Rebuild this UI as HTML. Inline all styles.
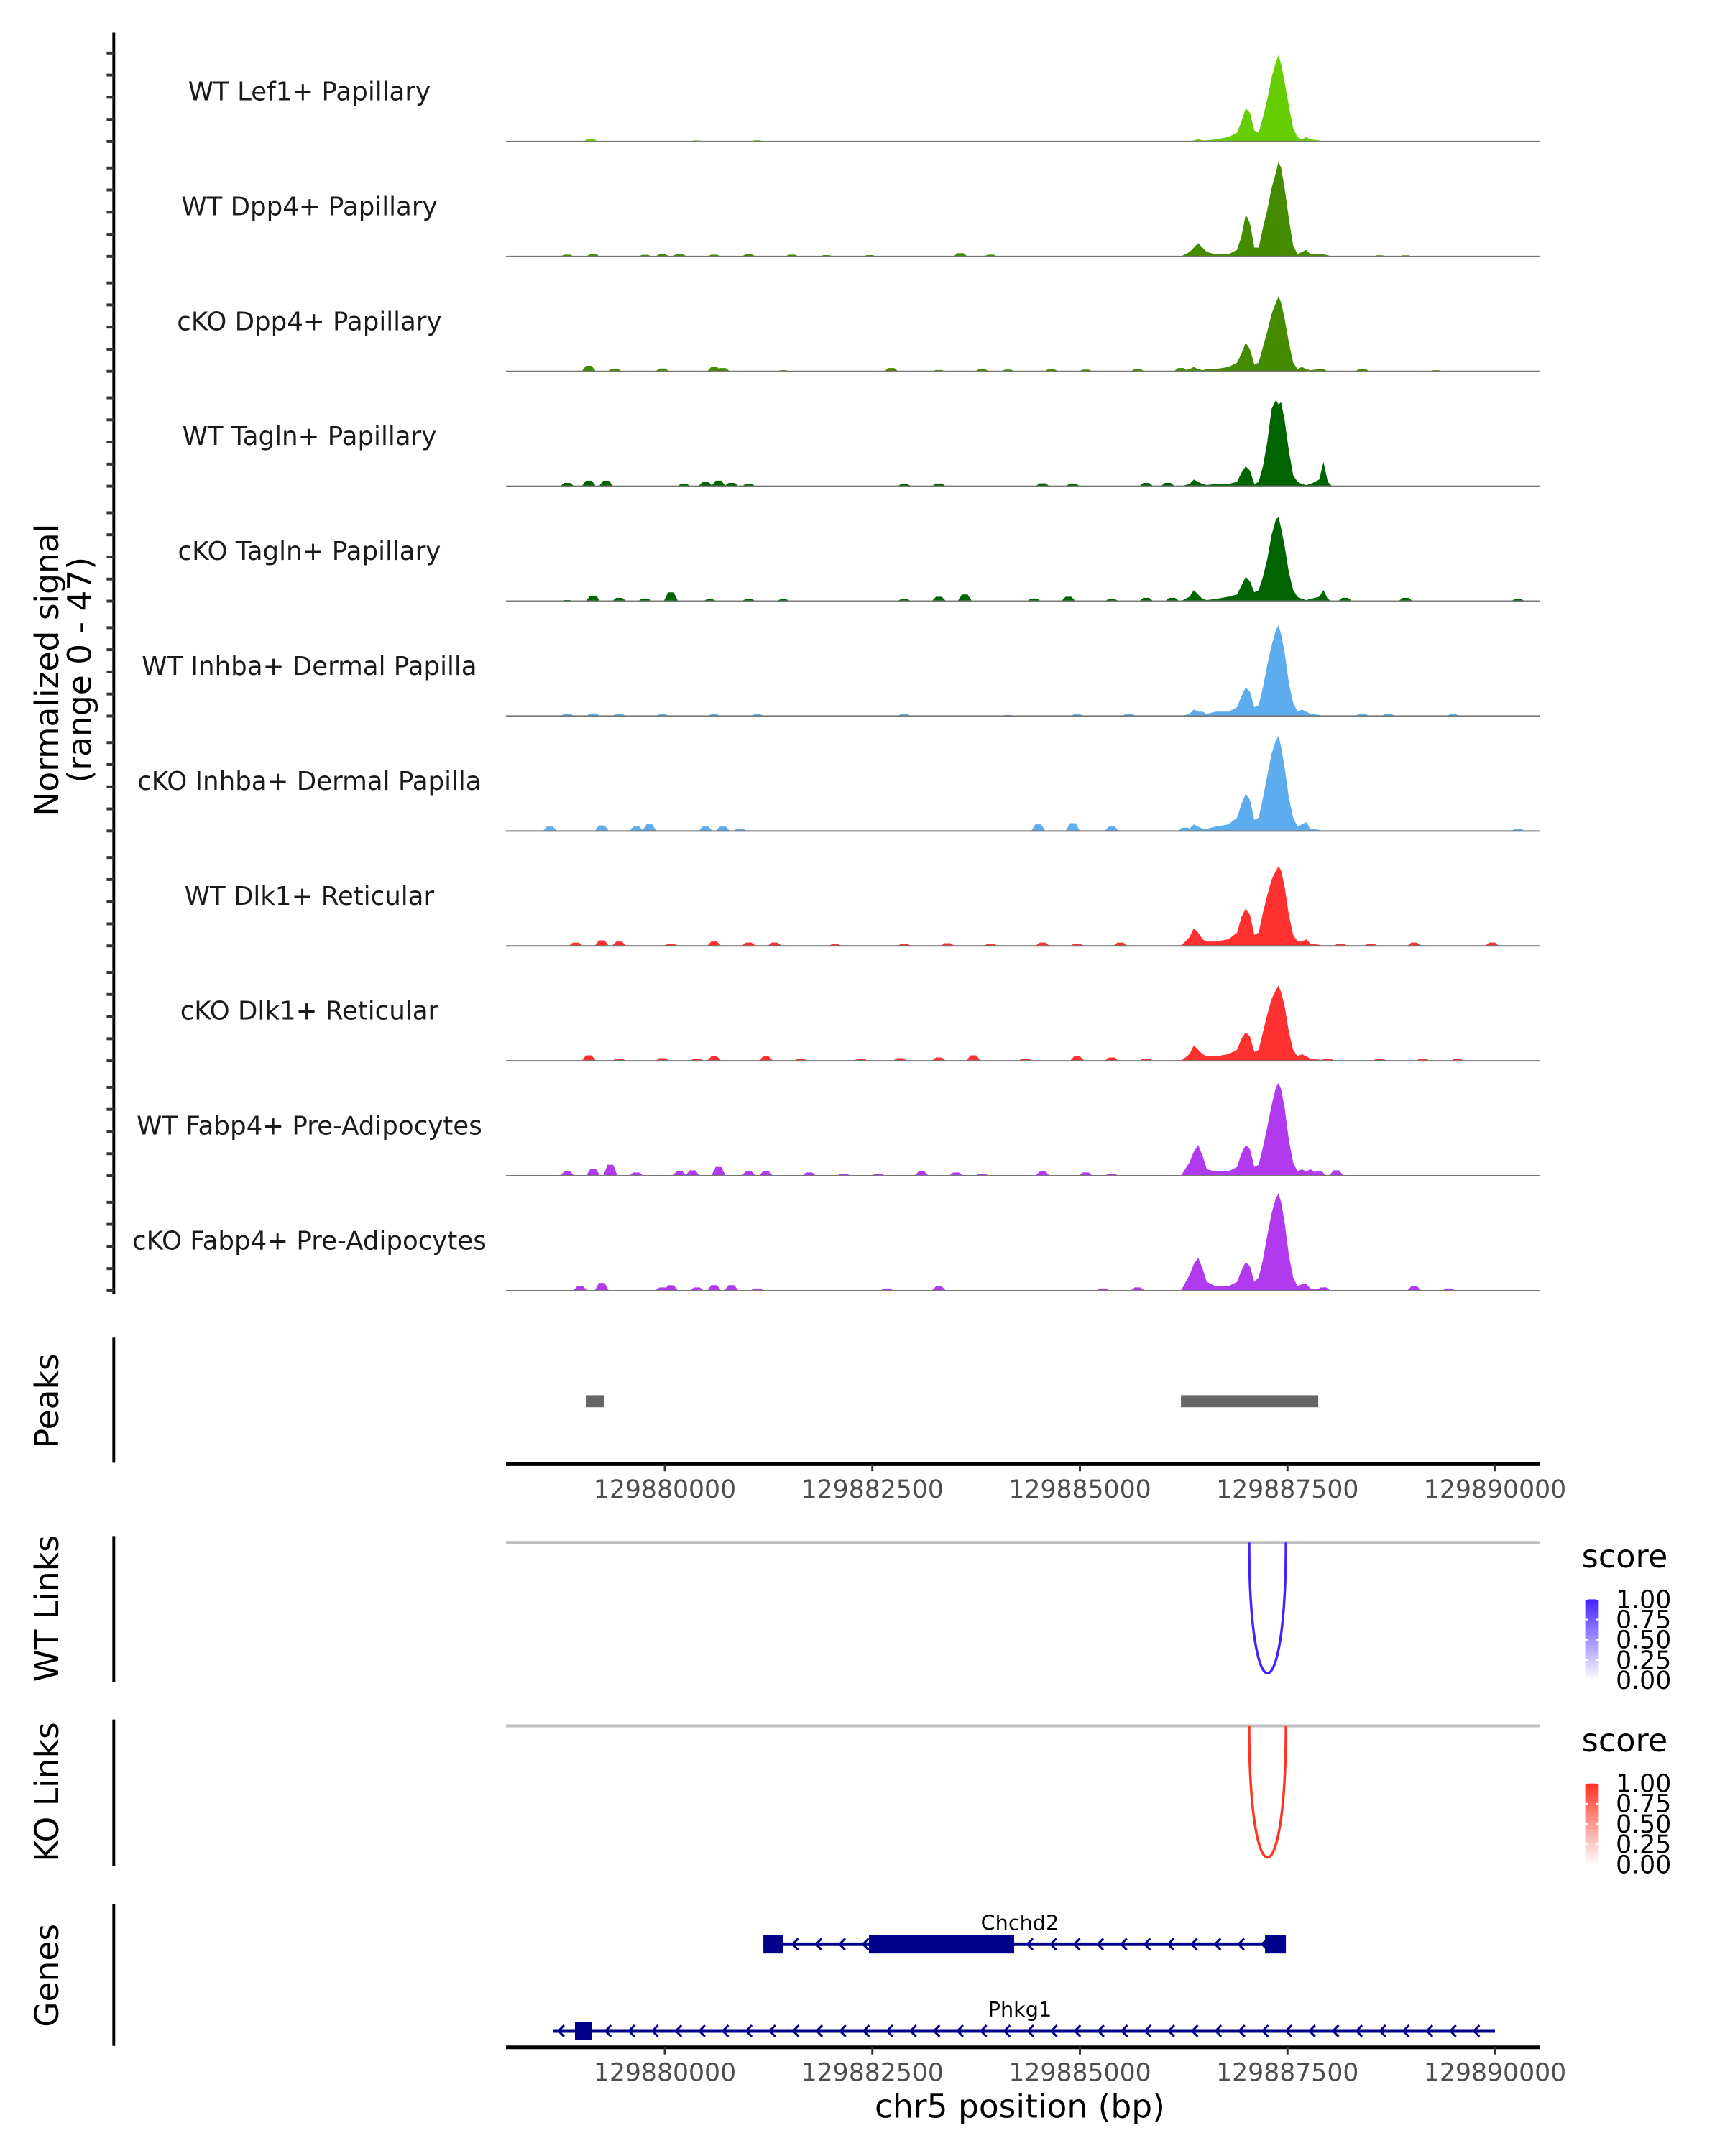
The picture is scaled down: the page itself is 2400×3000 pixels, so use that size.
<!DOCTYPE html>
<html><head><meta charset="utf-8">
<style>
html,body{margin:0;padding:0;background:#fff;}
svg{display:block;font-family:"DejaVu Sans","Liberation Sans",sans-serif;}
</style></head>
<body>
<svg id="chart" width="2400" height="3000" viewBox="0 0 2400 3000" xmlns="http://www.w3.org/2000/svg">
 <g transform="scale(0.9895)">
  <g id="tracks"></g>
  <g id="peaks"></g>
  <g id="links"></g>
  <g id="genes"></g>
  <text transform="translate(82,942) rotate(-90)" text-anchor="middle" font-size="46" fill="#000">Normalized signal</text>
  <text transform="translate(128,942) rotate(-90)" text-anchor="middle" font-size="46" fill="#000">(range 0 - 47)</text>
  <text transform="translate(82,1970) rotate(-90)" text-anchor="middle" font-size="46">Peaks</text>
  <text transform="translate(82,2262) rotate(-90)" text-anchor="middle" font-size="46">WT Links</text>
  <text transform="translate(82,2520) rotate(-90)" text-anchor="middle" font-size="46">KO Links</text>
  <text transform="translate(82,2778) rotate(-90)" text-anchor="middle" font-size="46">Genes</text>
  <text x="1434" y="2978" text-anchor="middle" font-size="46">chr5 position (bp)</text>
 </g>
</svg>
<script>
const NS = "http://www.w3.org/2000/svg";
const trackNames = ["WT Lef1+ Papillary","WT Dpp4+ Papillary","cKO Dpp4+ Papillary","WT Tagln+ Papillary","cKO Tagln+ Papillary","WT Inhba+ Dermal Papilla","cKO Inhba+ Dermal Papilla","WT Dlk1+ Reticular","cKO Dlk1+ Reticular","WT Fabp4+ Pre-Adipocytes","cKO Fabp4+ Pre-Adipocytes"];
const trackColors = ["#66CD00","#458B00","#458B00","#006400","#006400","#5CACEE","#5CACEE","#FF3030","#FF3030","#B23AEE","#B23AEE"];
const peakPos = [129886216,129886320,129886372,129886425,129886477,129886529,129886633,129886789,129886893,129886945,129886997,129887049,129887101,129887153,129887205,129887257,129887309,129887361,129887392,129887424,129887465,129887517,129887569,129887621,129887674,129887726,129887778,129887882,129887934,129887986,129888038];
const vals1 = [0,0,0.5,1,0.5,0.5,1,2,4,9,15,13,5,4,11,19,29,36,39,35,27,16,6,2,1,2,1,0.5,0,0,0];
const vals2 = [0,2,4,6,4,2,1,1,3,9,19,15,4,4,13,21,31,38,43,40,31,17,5,1,2,3,1,1,1,0.5,0];
const vals3 = [0,1,2,1,0.5,1,1,2,4,8,13,10,3,4,11,18,26,31,34,31,24,13,4,1,2,1,0.5,1,1,0,0];
const vals4 = [0,1,3,2,1,0.5,1,1,2,6,9,7,1,2,9,20,35,39,37,38,30,16,5,2,1,0.5,1,3,11,2,0];
const vals5 = [0,2,5,3,1,0.5,1,2,3,7,11,9,4,5,11,19,30,37,38,33,25,13,5,2,1,0.5,1,2,5,1,0];
const vals6 = [0,1,3,2,2,1,2,2,4,9,13,11,4,5,13,23,32,39,41,37,29,15,6,2,3,2,1,0.5,0,0,0];
const vals7 = [0,1,3,2,1,1,2,3,6,12,17,14,5,6,15,25,35,41,43,38,29,15,6,2,3,4,1,0.5,0,0,0];
const vals8 = [0,4,8,6,3,2,2,3,6,13,17,14,5,6,15,23,30,34,36,34,27,14,5,2,2,3,1,0.5,0,0,0];
const vals9 = [0,3,7,5,3,2,2,3,5,10,13,11,4,5,13,21,28,32,34,31,25,13,5,2,3,2,1,0.5,0,0,0];
const vals10 = [0,6,11,14,9,3,2,2,4,10,14,12,4,5,13,22,32,40,42,39,31,16,6,2,3,2,3,0.5,0,0,0];
const vals11 = [0,7,12,15,10,4,2,2,4,9,13,11,4,6,14,25,35,42,44,40,31,16,6,2,3,3,1,0.5,0,0,0];
const bumps1 = [[129879105,1.2],[129880386,0.5],[129881114,0.6],[129885175,0.3]];
const bumps2 = [[129878824,0.8],[129879136,1],[129879761,0.7],[129879969,1],[129880177,1.2],[129880594,0.8],[129881010,1],[129881531,0.8],[129881947,0.6],[129882468,0.6],[129883561,1.5],[129883925,0.8],[129888610,0.5],[129888923,0.5]];
const bumps3 = [[129879084,2.5],[129879396,1.2],[129879969,1.3],[129880594,2],[129880698,1.5],[129881427,0.5],[129882728,1.5],[129883301,0.6],[129883821,1],[129884133,0.8],[129884654,1],[129885070,0.8],[129885695,1],[129886216,1.5],[129888402,1.2],[129889287,0.5]];
const bumps4 = [[129878824,1.5],[129879084,2.5],[129879292,2.5],[129880229,1],[129880490,2],[129880646,2.5],[129880802,1.5],[129881010,1],[129882884,1],[129883301,1.2],[129884550,1.3],[129884914,1.2],[129885799,1.5],[129886059,1.5]];
const bumps5 = [[129878824,0.5],[129879136,2.5],[129879449,1.5],[129879761,1.2],[129880073,4],[129880542,0.8],[129881010,1],[129881427,0.8],[129882884,1],[129883301,2],[129883613,3],[129884446,1.2],[129884862,2],[129885383,1],[129885799,1.5],[129886112,1.5],[129888194,1.5],[129888923,1.5],[129890276,1]];
const bumps6 = [[129878824,1],[129879136,1.2],[129879449,1],[129879969,0.8],[129880594,0.8],[129881114,0.8],[129882884,1],[129884133,0.5],[129884966,0.8],[129885591,1],[129888402,1],[129888714,1],[129889495,0.8]];
const bumps7 = [[129878616,2],[129879240,2.5],[129879657,2],[129879813,3],[129880490,2],[129880698,2],[129880906,1],[129884498,3],[129884914,3.5],[129885383,2],[129886268,1.5],[129890276,1]];
const bumps8 = [[129878928,1.5],[129879240,2.5],[129879449,2],[129880073,1],[129880594,2],[129881010,1.5],[129881323,1.5],[129882051,0.8],[129882884,1],[129883405,1.2],[129883925,1],[129884550,1.5],[129884966,1],[129885487,1.5],[129888142,1],[129888506,1],[129889027,1.5],[129889964,1.5]];
const bumps9 = [[129879084,2.5],[129879449,1],[129879969,1.2],[129880386,1],[129880594,2],[129881218,2],[129881635,1],[129882364,1],[129882832,1.2],[129883301,1.5],[129883717,2.5],[129884342,1],[129884966,2],[129885383,1.5],[129885799,1],[129887985,1],[129888610,1],[129889131,1],[129889547,0.8]];
const bumps10 = [[129878824,2],[129879136,3],[129879344,5],[129879657,1.5],[129880177,2],[129880333,2.5],[129880646,4],[129881010,2],[129881218,2],[129881739,1.5],[129882155,1],[129882572,1],[129883092,2],[129883509,1.5],[129883821,1],[129884550,2],[129885070,1.5],[129885383,1],[129887881,2],[129888089,2.5]];
const bumps11 = [[129878980,2],[129879240,3.5],[129879969,1.5],[129880073,2.5],[129880386,1.5],[129880594,2.5],[129880802,2.5],[129881114,1],[129882676,1],[129883301,2],[129885279,1],[129885695,1.5],[129887933,1.5],[129889027,2],[129889443,1]];
const yTicks = [0,10,20,30,40];
const xTicks = [129880000,129882500,129885000,129887500,129890000];
const peakStarts = [129879048,129886217];
const peakEnds = [129879264,129887871];
const wtLinkStart = [129887039];
const wtLinkEnd = [129887481];
const wtLinkScore = [1.0];
const koLinkStart = [129887039];
const koLinkEnd = [129887481];
const koLinkScore = [1.0];
const geneNames = ["Chchd2","Phkg1"];
const geneStarts = [129881187,129878650];
const geneEnds = [129887481,129890000];
const exonStarts = [[129881187,129882459,129887230],[129878918]];
const exonEnds = [[129881420,129884208,129887481],[129879117]];
const legendLabels = ["1.00","0.75","0.50","0.25","0.00"];

const allVals = [vals1,vals2,vals3,vals4,vals5,vals6,vals7,vals8,vals9,vals10,vals11];
const allBumps = [bumps1,bumps2,bumps3,bumps4,bumps5,bumps6,bumps7,bumps8,bumps9,bumps10,bumps11];

const X0 = 711.5, X1 = 2165, BP0 = 129878087, PXBP = 0.11673;
function xs(bp){ return X0 + (bp - BP0) * PXBP; }
const YUNIT = 3.11;
function baseY(i){ return 199 + i * 161.6; }
function ys(i, v){ return baseY(i) - v * YUNIT; }
function mk(tag, attrs, parent){ const e = document.createElementNS(NS, tag); for (const k in attrs) e.setAttribute(k, attrs[k]); parent.appendChild(e); return e; }

const gT = document.getElementById('tracks');
const ax = mk('line', {x1:160, y1:46, x2:160, y2:1820, stroke:'#000', 'stroke-width':4}, gT);


trackNames.forEach((name, i) => {
  const g = mk('g', {}, gT);
  
  
  yTicks.forEach(t => {
    const tk = mk('line', {x1:150, x2:160, y1:ys(i,t), y2:ys(i,t), stroke:'#333', 'stroke-width':4}, g);
    
    
  });
  const lab = mk('text', {x:435, y:baseY(i)-58, 'text-anchor':'middle', 'font-size':36, fill:'#1a1a1a'}, g);
  lab.textContent = name;
  
  
  const vals = allVals[i];
  let d = 'M' + xs(peakPos[0]) + ',' + baseY(i);
  peakPos.forEach((p, j) => { d += ' L' + xs(p).toFixed(1) + ',' + ys(i, vals[j]).toFixed(1); });
  d += ' L' + xs(peakPos[peakPos.length-1]) + ',' + baseY(i) + ' Z';
  const area = mk('path', {d:d, fill:trackColors[i]}, g);
  
  
  allBumps[i].forEach(b => {
    const c = xs(b[0]), w = 10;
    const bp = mk('path', {d:'M'+(c-w)+','+baseY(i)+' L'+(c-w*0.4)+','+ys(i,b[1])+' L'+(c+w*0.4)+','+ys(i,b[1])+' L'+(c+w)+','+baseY(i)+' Z', fill:trackColors[i]}, g);
    
    
  });
  const bl = mk('line', {x1:X0, x2:X1, y1:baseY(i), y2:baseY(i), stroke:'#777', 'stroke-width':2}, g);
  
  
});

function xAxis(parent, y, name){
  const g = mk('g', {}, parent);
  
  
  mk('line', {x1:X0, x2:X1, y1:y, y2:y, stroke:'#000', 'stroke-width':5}, g);
  xTicks.forEach(t => {
    mk('line', {x1:xs(t), x2:xs(t), y1:y, y2:y+10, stroke:'#333', 'stroke-width':3}, g);
    const tl = mk('text', {x:xs(t), y:y+47, 'text-anchor':'middle', 'font-size':35, fill:'#4d4d4d'}, g);
    tl.textContent = String(t);
    
    
  });
}

const gP = document.getElementById('peaks');
mk('line', {x1:160, x2:160, y1:1881, y2:2057, stroke:'#000', 'stroke-width':4}, gP);
peakStarts.forEach((s, i) => {
  const r = mk('rect', {x:xs(s), y:1962, width:xs(peakEnds[i]) - xs(s), height:17, fill:'#666'}, gP);
  
  
});
xAxis(gP, 2059, 'peaks-x-axis');

const gL = document.getElementById('links');
function linksPanel(top, bottom, starts, ends, scores, color, name, legY){
  const g = mk('g', {}, gL);
  
  
  mk('line', {x1:160, x2:160, y1:top-9, y2:bottom+6, stroke:'#000', 'stroke-width':4}, g);
  mk('line', {x1:X0, x2:X1, y1:top, y2:top, stroke:'#bebebe', 'stroke-width':4}, g);
  const depth = bottom - top - 6;
  starts.forEach((s, i) => {
    const a = xs(s), b = xs(ends[i]);
    const arc = mk('path', {d:'M'+a+','+top+' C'+a+','+(top+depth*1.333)+' '+b+','+(top+depth*1.333)+' '+b+','+top, fill:'none', stroke:color, 'stroke-width':3.5, 'stroke-opacity':scores[i]}, g);
    
    
  });
  const lg = mk('g', {}, g);
  
  
  const st = mk('text', {x:2224, y:legY, 'font-size':45, fill:'#000'}, lg);
  st.textContent = 'score';
  const gid = 'grad-' + name;
  const defs = mk('defs', {}, lg);
  const gr = mk('linearGradient', {id:gid, x1:0, y1:0, x2:0, y2:1}, defs);
  mk('stop', {offset:'0', 'stop-color':color}, gr);
  mk('stop', {offset:'1', 'stop-color':'#fff'}, gr);
  const barTop = legY + 45, barH = 114;
  mk('rect', {x:2229, y:barTop, width:19, height:barH, fill:'url(#'+gid+')'}, lg);
  legendLabels.forEach((l, k) => {
    const yy = barTop + k * barH / 4;
    mk('line', {x1:2229, x2:2233, y1:yy, y2:yy, stroke:'#fff', 'stroke-width':2}, lg);
    mk('line', {x1:2244, x2:2248, y1:yy, y2:yy, stroke:'#fff', 'stroke-width':2}, lg);
    const t = mk('text', {x:2272, y:yy+12, 'font-size':35, fill:'#000'}, lg);
    t.textContent = l;
  });
}
linksPanel(2169, 2359, wtLinkStart, wtLinkEnd, wtLinkScore, '#4422ff', 'wt-links', 2204);
linksPanel(2427, 2618, koLinkStart, koLinkEnd, koLinkScore, '#ff3322', 'ko-links', 2463);

const gG = document.getElementById('genes');
mk('line', {x1:160, x2:160, y1:2678, y2:2877, stroke:'#000', 'stroke-width':4}, gG);
const geneY = [2734, 2856];
geneNames.forEach((gname, i) => {
  const g = mk('g', {}, gG);
  
  
  const y = geneY[i], a = xs(geneStarts[i]), b = xs(geneEnds[i]);
  mk('line', {x1:a, x2:b, y1:y, y2:y, stroke:'#00008B', 'stroke-width':5}, g);
  for (let x = a + 8; x < b - 6; x += 33) {
    mk('polyline', {points:(x+8)+','+(y-8)+' '+x+','+y+' '+(x+8)+','+(y+8), fill:'none', stroke:'#00008B', 'stroke-width':3}, g);
  }
  exonStarts[i].forEach((s, k) => {
    mk('rect', {x:xs(s), y:y-13, width:xs(exonEnds[i][k]) - xs(s), height:26, fill:'#00008B'}, g);
  });
  const gl = mk('text', {x:1434, y:y-20, 'text-anchor':'middle', 'font-size':29, fill:'#000'}, g);
  gl.textContent = gname;
  
  
});
xAxis(gG, 2879, 'genes-x-axis');
</script>
</body></html>
